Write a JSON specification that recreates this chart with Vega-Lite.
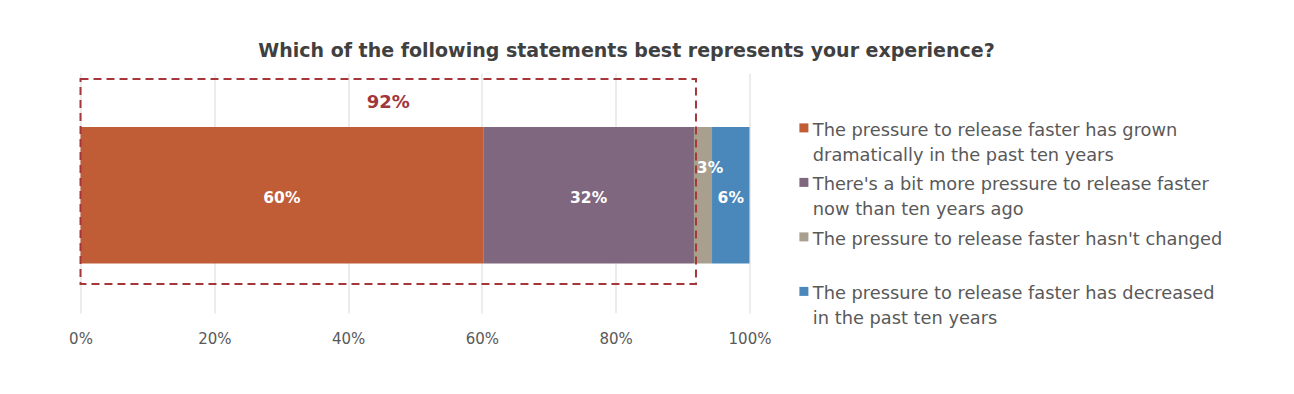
{
  "$schema": "https://vega.github.io/schema/vega-lite/v6.json",
  "autosize": "none",
  "width": 669,
  "height": 240,
  "padding": {"left": 80.5, "top": 73, "right": 544.5, "bottom": 81},
  "background": "white",
  "title": {
    "text": "Which of the following statements best represents your experience?",
    "anchor": "middle",
    "frame": "group",
    "dx": 211.5,
    "offset": 12,
    "font": "DejaVu Sans",
    "fontSize": 19,
    "fontWeight": "bold",
    "color": "#404040"
  },
  "datasets": {
    "answers": [
      {"answer": "The pressure to release faster has grown dramatically in the past ten years", "share": 60.2, "label": "60%", "rank": 1},
      {"answer": "There's a bit more pressure to release faster now than ten years ago", "share": 31.5, "label": "32%", "rank": 2},
      {"answer": "The pressure to release faster hasn't changed", "share": 2.7, "label": "3%", "rank": 3},
      {"answer": "The pressure to release faster has decreased in the past ten years", "share": 5.6, "label": "6%", "rank": 4}
    ],
    "callout": [
      {"group": "More pressure to release faster (combined)", "share": 92, "label": "92%"}
    ]
  },
  "encoding": {
    "y": {"datum": "Q", "type": "nominal", "axis": null, "scale": {"paddingInner": 0, "paddingOuter": 0}}
  },
  "layer": [
    {
      "data": {"name": "answers"},
      "mark": {"type": "bar", "height": 136.5, "yOffset": 2.25},
      "encoding": {
        "x": {
          "field": "share",
          "type": "quantitative",
          "stack": "zero",
          "scale": {"domain": [0, 100], "nice": false},
          "axis": {
            "title": null,
            "values": [0, 20, 40, 60, 80, 100],
            "labelExpr": "datum.value + '%'",
            "labelFlush": false,
            "domain": false,
            "ticks": false,
            "grid": true,
            "gridColor": "#D9D9D9",
            "gridWidth": 1,
            "labelPadding": 18,
            "labelFont": "DejaVu Sans",
            "labelFontSize": 15,
            "labelColor": "#595959"
          }
        },
        "color": {
          "field": "answer",
          "type": "nominal",
          "sort": null,
          "scale": {
            "domain": [
              "The pressure to release faster has grown dramatically in the past ten years",
              "There's a bit more pressure to release faster now than ten years ago",
              "The pressure to release faster hasn't changed",
              "The pressure to release faster has decreased in the past ten years"
            ],
            "range": ["#C05C36", "#7F6780", "#A89F8E", "#4A87BA"]
          },
          "legend": {
            "orient": "none",
            "legendX": 714.5,
            "legendY": 40,
            "title": null,
            "padding": 0,
            "symbolType": "M-1,0.33H1V2.33H-1Z",
            "symbolSize": 81,
            "symbolStrokeWidth": 0,
            "labelFont": "DejaVu Sans",
            "labelFontSize": 17.8,
            "labelColor": "#595959",
            "labelLimit": 600,
            "labelOffset": 0,
            "labelBaseline": "top",
            "rowPadding": 2.5,
            "gridAlign": "all",
            "labelExpr": "split(replace(replace(replace(datum.label, ' has grown ', ' has grown|'), ' faster now ', ' faster|now '), ' decreased in ', ' decreased|in '), '|')",
            "encode": {"labels": {"update": {"lineHeight": {"value": 25}}}}
          }
        },
        "order": {"field": "rank"}
      }
    },
    {
      "data": {"name": "callout"},
      "mark": {"type": "bar", "filled": false, "stroke": "#A5373B", "strokeWidth": 2, "strokeDash": [8, 5], "height": 205, "yOffset": -11.5},
      "encoding": {
        "x": {"field": "share", "type": "quantitative", "stack": "zero"}
      }
    },
    {
      "data": {"name": "callout"},
      "mark": {"type": "text", "font": "DejaVu Sans", "fontWeight": "bold", "fontSize": 18, "color": "#A0373C", "baseline": "middle", "align": "center", "dy": -90},
      "encoding": {
        "x": {"field": "share", "type": "quantitative", "stack": "zero", "bandPosition": 0.5},
        "text": {"field": "label"}
      }
    },
    {
      "data": {"name": "answers"},
      "mark": {"type": "text", "font": "DejaVu Sans", "fontWeight": "bold", "fontSize": 15.5, "color": "white", "baseline": "middle", "align": "center", "dy": 5},
      "encoding": {
        "x": {"field": "share", "type": "quantitative", "stack": "zero", "bandPosition": 0.5},
        "detail": {"field": "answer"},
        "order": {"field": "rank"},
        "text": {"condition": {"test": "datum.label != '3%'", "field": "label"}, "value": ""}
      }
    },
    {
      "data": {"name": "answers"},
      "mark": {"type": "text", "font": "DejaVu Sans", "fontWeight": "bold", "fontSize": 15.5, "color": "white", "baseline": "middle", "align": "center", "dx": 7, "dy": -25},
      "encoding": {
        "x": {"field": "share", "type": "quantitative", "stack": "zero", "bandPosition": 0.5},
        "detail": {"field": "answer"},
        "order": {"field": "rank"},
        "text": {"condition": {"test": "datum.label == '3%'", "field": "label"}, "value": ""}
      }
    }
  ],
  "config": {
    "view": {"stroke": null}
  }
}
